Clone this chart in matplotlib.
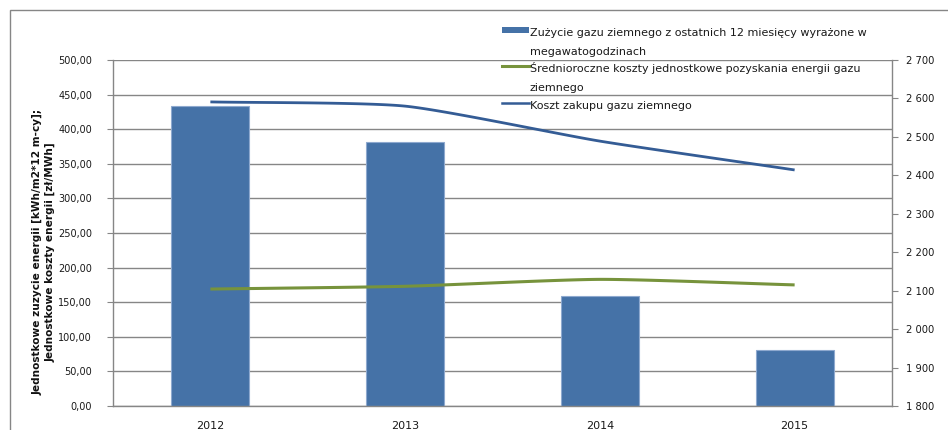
import numpy as np
import matplotlib
matplotlib.use("Agg")
import matplotlib.pyplot as plt
from matplotlib.patches import Rectangle
from matplotlib.lines import Line2D
from matplotlib.ticker import FuncFormatter, MultipleLocator

plt.rcParams['font.family'] = ['DejaVu Sans']

years = ["2012", "2013", "2014", "2015"]
consumption_bars = [433, 381, 159, 81]          # left axis
avg_unit_cost = [169, 173, 183, 175]            # left axis (green)
purchase_cost = [2591, 2580, 2489, 2414]        # right axis (blue line)

legend_labels = [
    "Zużycie gazu ziemnego z ostatnich 12 miesięcy wyrażone w\nmegawatogodzinach",
    "Średnioroczne koszty jednostkowe pozyskania energii gazu\nziemnego",
    "Koszt zakupu gazu ziemnego",
]
left_label = "Jednostkowe zuzycie energii [kWh/m2*12 m-cy];\nJednostkowe koszty energii [zł/MWh]"

BAR = "#4572A7"
GREEN = "#77933C"
BLUE = "#345C95"
GRID = "#868686"
TXT = "#1a1a1a"

W, H = 948, 430
fig = plt.figure(figsize=(W / 100, H / 100), dpi=100)
ax = fig.add_axes([113 / W, 1 - 406 / H, (892 - 113) / W, (406 - 60) / H])
ax2 = ax.twinx()

x = np.arange(len(years))


def smooth(xs, ys, k=0.1, n=40):
    xs = np.asarray(xs, float)
    ys = np.asarray(ys, float)
    px = np.concatenate([[2 * xs[0] - xs[1]], xs, [2 * xs[-1] - xs[-2]]])
    py = np.concatenate([[2 * ys[0] - ys[1]], ys, [2 * ys[-1] - ys[-2]]])
    ox, oy = [], []
    for i in range(1, len(px) - 2):
        t = np.linspace(0, 1, n)
        p0, p1, p2, p3 = [np.array([px[j], py[j]]) for j in range(i - 1, i + 3)]
        c1 = p1 + (p2 - p0) * k
        c2 = p2 - (p3 - p1) * k
        pts = ((1 - t) ** 3)[:, None] * p1 + (3 * (1 - t) ** 2 * t)[:, None] * c1 \
            + (3 * (1 - t) * t ** 2)[:, None] * c2 + (t ** 3)[:, None] * p2
        ox.extend(pts[:, 0])
        oy.extend(pts[:, 1])
    return np.array(ox), np.array(oy)


ax.bar(x, consumption_bars, width=0.4, color=BAR, edgecolor="#8EA9CF", linewidth=0.8, zorder=2)
gx, gy = smooth(x, avg_unit_cost)
ax.plot(gx, gy, color=GREEN, lw=2.2, zorder=3, solid_capstyle="butt")
bx, by = smooth(x, purchase_cost)
ax2.plot(bx, by, color=BLUE, lw=2.0, zorder=3, solid_capstyle="butt")

ax.set_xlim(-0.5, 3.5)
ax.set_ylim(0, 500)
ax2.set_ylim(1800, 2700)
ax.yaxis.set_major_locator(MultipleLocator(50))
ax2.yaxis.set_major_locator(MultipleLocator(100))
ax.yaxis.set_major_formatter(FuncFormatter(lambda v, p: f"{v:.2f}".replace(".", ",")))
ax2.yaxis.set_major_formatter(FuncFormatter(lambda v, p: f"{int(v):,}".replace(",", " ")))
ax.set_xticks(x)
ax.set_xticklabels(years)

ax.grid(axis="y", color=GRID, lw=1.0, zorder=0)
ax.set_axisbelow(True)
for a in (ax, ax2):
    for s in a.spines.values():
        s.set_color(GRID)
        s.set_linewidth(1.0)
    a.spines["top"].set_visible(False)
ax.spines["right"].set_visible(False)
ax2.spines["left"].set_visible(False)
ax2.spines["bottom"].set_visible(False)

ax.tick_params(axis="y", direction="out", length=4, color=GRID, labelsize=7.0, pad=11,
               labelcolor=TXT)
ax2.tick_params(axis="y", direction="out", length=4, color=GRID, labelsize=7.2, pad=6,
                labelcolor=TXT)
ax.tick_params(axis="x", length=0, labelsize=8.0, pad=11, labelcolor=TXT)

fig.text(44 / W, 1 - 252 / H, left_label, rotation=90, ha="center", va="center",
         fontsize=7.6, fontweight="bold", linespacing=1.4, color="#111111")

# legend (manual, handle aligned with the first text line like the source)
tr = fig.transFigure
lx0, lx1, tx = 502 / W, 529 / W, 530 / W
handle_y = [30, 66, 103]
baselines = [36, 72, 109]
fig.add_artist(Rectangle((lx0, 1 - 32.5 / H), lx1 - lx0, 5 / H, transform=tr,
                         facecolor=BAR, edgecolor="none"))
fig.add_artist(Line2D([lx0, lx1], [1 - handle_y[1] / H] * 2, transform=tr, color=GREEN, lw=2.2))
fig.add_artist(Line2D([lx0, lx1], [1 - handle_y[2] / H] * 2, transform=tr, color=BLUE, lw=1.8))
for b, lab in zip(baselines, legend_labels):
    first, *rest = lab.split("\n")
    fig.text(tx, 1 - b / H, first, ha="left", va="baseline", fontsize=8.0, color=TXT)
    for k, line in enumerate(rest, start=1):
        fig.text(tx, 1 - (b + 19 * k) / H, line, ha="left", va="baseline", fontsize=8.0,
                 color=TXT)

# chart border
fig.add_artist(Rectangle((10 / W, -0.1), 1.0, 1 - 10 / H + 0.1, transform=tr,
                         facecolor="none", edgecolor=GRID, lw=1.0, clip_on=False))

fig.savefig("out.png", dpi=100)
